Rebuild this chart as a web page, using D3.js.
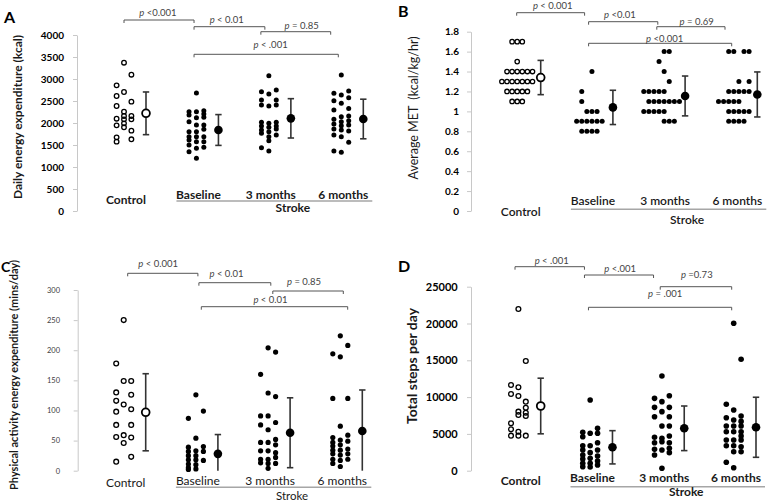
<!DOCTYPE html>
<html><head><meta charset="utf-8">
<script src="https://cdn.jsdelivr.net/npm/d3@7"></script>
<style>body{margin:0;background:#fff}svg{display:block}</style>
</head><body><svg id="chart" width="770" height="501"></svg>
<script>
const FONT = "Lato, 'Open Sans', 'DejaVu Sans', sans-serif";
const groups = ["Control", "Baseline", "3 months", "6 months"];

// ---- Panel A: Daily energy expenditure (kcal) ----
const energyTicks = [0, 500, 1000, 1500, 2000, 2500, 3000, 3500, 4000];
const energyControl = [[2856, 2614, 2386, 2098, 1947, 1674, 1576], [3371, 2705, 2258, 2160, 2083, 1992, 1902], [3098, 2485, 2160, 2083, 1826, 1629]];
const energyBaseline = [[2258, 2182, 2030, 1803, 1689, 1614, 1500, 1348], [2682, 2258, 2121, 1955, 1803, 1689, 1576, 1424, 1197], [2280, 2205, 2129, 1955, 1856, 1689, 1576, 1447]];
const energy3m = [[2712, 2523, 2409, 2015, 1932, 1841, 1765, 1440], [3076, 2659, 2386, 1992, 1902, 1803, 1689, 1598, 1364], [2750, 2523, 2409, 2015, 1932, 1864, 1727]];
const energy6m = [[2674, 2508, 2295, 2083, 1977, 1864, 1727, 1364], [3091, 2636, 2447, 2144, 2030, 1939, 1841, 1689, 1333], [2727, 2576, 2330, 2159, 2053, 1955, 1818, 1561]];
const energyMean = [2220, 1841, 2106, 2091];
const energySD = [485, 350, 447, 450];
const energyP = [" <0.001", " < 0.01", " = 0.85", " < .001"];

// ---- Panel B: Average MET (kcal/kg/hr) ----
const metTicks = [0, 0.2, 0.4, 0.6, 0.8, 1, 1.2, 1.4, 1.6, 1.8];
const metControl = [[1.3], [1.4, 1.3, 1.2], [1.7, 1.4, 1.3, 1.2, 1.1], [1.7, 1.5, 1.4, 1.3, 1.2, 1.1], [1.7, 1.4, 1.3, 1.2, 1.1], [1.4, 1.3, 1.2], [1.4, 1.3]];
const metBaseline = [[0.9], [1.2, 1.1, 0.9, 0.8], [1.0, 0.9, 0.8], [1.4, 1.0, 0.9, 0.8], [1.0, 0.9, 0.8], [0.9]];
const met3m = [[1.2, 1.0], [1.2, 1.1, 1.0], [1.2, 1.1, 1.0], [1.5, 1.2, 1.1, 1.0], [1.6, 1.4, 1.2, 1.1, 1.0, 0.9], [1.6, 1.3, 1.1, 0.9], [1.1, 0.9], [1.1]];
const met6m = [[1.1], [1.1], [1.6, 1.2, 1.1, 1.0, 0.9], [1.6, 1.2, 1.1, 1.0, 0.9], [1.3, 1.2, 1.1, 1.0, 0.9], [1.6, 1.2, 1.0, 0.9], [1.6, 1.3, 1.2, 1.0]];
const metMean = [1.34, 1.04, 1.155, 1.17];
const metSD = [0.172, 0.172, 0.2, 0.226];
const metP = [" < 0.001", " <0.01", " = 0.69", " <0.001"];

// ---- Panel C: Physical activity energy expenditure (mins/day) ----
const paTicks = [0, 50, 100, 150, 200, 250, 300];
const paControl = [[178, 130, 116, 98, 76, 56, 15], [250, 149, 110, 59, 46], [149, 126, 102, 76, 55, 23]];
const paBaseline = [[87, 39, 32, 25, 18, 11, 5, 2], [126, 54, 33, 25, 18, 10, 3], [99, 40, 32, 17]];
const pa3m = [[160, 91, 76, 47, 33, 19, 13], [204, 129, 91, 68, 47, 33, 19, 12, 4], [197, 123, 80, 52, 43, 30, 22, 12]];
const pa6m = [[194, 120, 55, 47, 41, 34, 28, 19, 12], [224, 189, 74, 51, 43, 34, 26, 17, 7], [208, 120, 59, 49, 36, 28, 19]];
const paMean = [97, 28, 63, 66];
const paSD = [64, 32, 58, 68];
const paP = [" < 0.001", " < 0.01", " = 0.85", " < 0.01"];

// ---- Panel D: Total steps per day ----
const stepsTicks = [0, 5000, 10000, 15000, 20000, 25000];
const stepsControl = [[11650, 10420, 6440, 5620, 4760], [21970, 11330, 10150, 8020, 7570, 5300, 4760], [14900, 9380, 8560, 7880, 7430, 4760]];
const stepsBaseline = [[5210, 4620, 3400, 2810, 2130, 1590, 1000, 540], [9600, 5080, 3400, 2450, 1680, 1000, 500], [5760, 5080, 3800, 2810, 2000, 1320, 770]];
const steps3m = [[9830, 8610, 7340, 4540, 3800, 2900, 2130], [12870, 9380, 8020, 6070, 4400, 3940, 2810, 330], [10190, 8610, 7340, 6070, 4710, 3800, 3040, 2450]];
const steps6m = [[9020, 7200, 6070, 5300, 4170, 3400, 1140], [20030, 8250, 6890, 6070, 5300, 4170, 3400, 2580, 410], [15140, 7430, 6700, 6070, 5300, 4710, 4170, 3260, 2580]];
const stepsMean = [8790, 3180, 5760, 5900];
const stepsSD = [3780, 2260, 3030, 4080];
const stepsP = [" < .001", " <.001", " =0.73", " = .001"];

const svg = d3.select("#chart");

function drawPanel(p) {
  const g = svg.append("g");
  const x = d3.scalePoint().domain(groups).range(p.xRange);
  const y = d3.scaleLinear().domain([0, p.ticks[p.ticks.length - 1]]).range(p.yRange);

  // axis
  const axis = d3.axisLeft(y).tickValues(p.ticks).tickSize(4).tickSizeOuter(0)
    .tickPadding(p.tickPad).tickFormat(d => String(d));
  const ax = g.append("g").attr("transform", `translate(${p.axisX},0)`).call(axis);
  ax.select(".domain").attr("stroke", "#c8c8c8").attr("stroke-width", 1);
  ax.selectAll(".tick line").attr("stroke", "#c8c8c8");
  ax.selectAll(".tick text").attr("font-family", FONT).attr("font-size", p.tickFont)
    .attr("font-weight", p.tickWeight).attr("fill", p.tickColor);

  // y label
  g.append("text").attr("transform", `translate(${p.ylab.x},${p.ylab.y}) rotate(-90)`)
    .attr("text-anchor", "middle").attr("dominant-baseline", "central")
    .attr("font-family", FONT).attr("font-size", p.ylab.size).attr("font-weight", p.ylab.weight)
    .attr("fill", "#1a1a1a").style("white-space", "pre").text(p.ylab.text);

  // panel letter
  g.append("text").attr("x", p.letter.x).attr("y", p.letter.y)
    .attr("font-family", FONT).attr("font-size", p.letter.size).attr("font-weight", "bold")
    .attr("fill", "#000").text(p.letter.text);

  // points
  const pts = [];
  p.data.forEach((cols, gi) => {
    const n = cols.length;
    cols.forEach((col, ci) => col.forEach(v => pts.push({ gi, ci, n, v })));
  });
  g.append("g").selectAll("circle").data(pts).join("circle")
    .attr("cx", d => x(groups[d.gi]) - p.clusterOff + (d.ci - (d.n - 1) / 2) * p.colStep)
    .attr("cy", d => y(d.v))
    .attr("r", d => d.gi === 0 ? p.openR : p.dotR)
    .attr("fill", d => d.gi === 0 ? "none" : "#000")
    .attr("stroke", d => d.gi === 0 ? "#000" : "none")
    .attr("stroke-width", 1.3);

  // mean +/- SD
  const stats = groups.map((grp, i) => ({ grp, i, m: p.mean[i], s: p.sd[i] }));
  const eb = g.append("g").attr("stroke", "#333").attr("stroke-width", 1.6).attr("fill", "none");
  stats.forEach(d => {
    const cx = x(d.grp);
    const top = y(d.m + d.s);
    const loV = d.m - d.s;
    const bot = y(Math.max(0, loV));
    eb.append("line").attr("x1", cx).attr("x2", cx).attr("y1", top).attr("y2", bot);
    eb.append("line").attr("x1", cx - 3.2).attr("x2", cx + 3.2).attr("y1", top).attr("y2", top);
    if (loV > 0) eb.append("line").attr("x1", cx - 3.2).attr("x2", cx + 3.2).attr("y1", bot).attr("y2", bot);
  });
  g.append("g").selectAll("circle").data(stats).join("circle")
    .attr("cx", d => x(d.grp)).attr("cy", d => y(d.m))
    .attr("r", d => d.i === 0 ? 3.9 : 4.3)
    .attr("fill", d => d.i === 0 ? "#fff" : "#000")
    .attr("stroke", "#000").attr("stroke-width", d => d.i === 0 ? 1.8 : 0);

  // brackets
  p.brackets.forEach((b, k) => {
    const x1 = x(groups[b.from]) + b.o1, x2 = x(groups[b.to]) + b.o2;
    g.append("path").attr("d", `M${x1},${b.y + 3}V${b.y}H${x2}V${b.y + 3}`)
      .attr("fill", "none").attr("stroke", "#555").attr("stroke-width", 1);
    const t = g.append("text").attr("x", (x1 + x2) / 2 + b.dx).attr("y", b.y + b.dy)
      .attr("text-anchor", "middle").attr("font-family", FONT).attr("font-size", 9.5)
      .attr("fill", "#444").style("white-space", "pre");
    t.append("tspan").attr("font-style", "italic").text("p");
    t.append("tspan").text(p.pLabels[k]);
  });

  // category labels
  const c = p.cat;
  g.append("g").selectAll("text").data(groups).join("text")
    .attr("x", d => x(d) - 20)
    .attr("y", (d, i) => i === 0 ? c.controlY : c.strokeY)
    .attr("text-anchor", "middle").attr("font-family", FONT).attr("font-size", c.size)
    .attr("font-weight", c.weight).attr("fill", "#1a1a1a").text(d => d);
  g.append("line").attr("x1", x(groups[1]) - 42).attr("x2", x(groups[3]) + 9)
    .attr("y1", c.lineY).attr("y2", c.lineY).attr("stroke", "#a6a6a6").attr("stroke-width", 1.5);
  g.append("text").attr("x", x(groups[2]) + 2).attr("y", c.strokeLabelY)
    .attr("text-anchor", "middle").attr("font-family", FONT).attr("font-size", c.strokeSize || c.size)
    .attr("font-weight", c.weight).attr("fill", "#1a1a1a").text("Stroke");
}

drawPanel({
  xRange: [146, 363.3], axisX: 77, yRange: [211, 35], ticks: energyTicks,
  tickFont: 10, tickWeight: "bold", tickColor: "#000", tickPad: 9,
  ylab: { text: "Daily energy expenditure (kcal)", x: 17, y: 117, size: 12, weight: "bold" },
  letter: { text: "A", x: 4, y: 23, size: 16 },
  data: [energyControl, energyBaseline, energy3m, energy6m], mean: energyMean, sd: energySD,
  colStep: 7.4, clusterOff: 22, dotR: 2.5, openR: 2.3,
  pLabels: energyP,
  brackets: [
    { from: 0, to: 1, o1: -22, o2: -24.4, y: 20, dx: -1.2, dy: -4.5 },
    { from: 1, to: 2, o1: -24.4, o2: -26, y: 26.7, dx: -2.7, dy: -3.4 },
    { from: 2, to: 3, o1: -30, o2: -32.6, y: 31.7, dx: 5.8, dy: -2.4 },
    { from: 1, to: 3, o1: -24.4, o2: -25, y: 54.3, dx: 4.4, dy: -6 }
  ],
  cat: { size: 12, weight: "bold", controlY: 204, strokeY: 198.7, lineY: 201, strokeLabelY: 212.3 }
});

drawPanel({
  xRange: [540.7, 757.3], axisX: 471, yRange: [211, 31.7], ticks: metTicks,
  tickFont: 10, tickWeight: "bold", tickColor: "#000", tickPad: 8,
  ylab: { text: "Average MET  (kcal/kg/hr)", x: 413, y: 108, size: 12.5, weight: "normal" },
  letter: { text: "B", x: 398, y: 17, size: 16 },
  data: [metControl, metBaseline, met3m, met6m], mean: metMean, sd: metSD,
  colStep: 5.1, clusterOff: 23.5, dotR: 2.5, openR: 2.2,
  pLabels: metP,
  brackets: [
    { from: 0, to: 1, o1: -24, o2: -28.3, y: 12.7, dx: 2.1, dy: -3.4 },
    { from: 1, to: 2, o1: -24.3, o2: -27.3, y: 21.7, dx: -3.4, dy: -3.4 },
    { from: 2, to: 3, o1: -28.3, o2: -32.3, y: 26.7, dx: 5.8, dy: -1.7 },
    { from: 1, to: 3, o1: -24.3, o2: -25.6, y: 43.3, dx: 4.6, dy: -1.6 }
  ],
  cat: { size: 12, weight: "600", controlY: 216, strokeY: 205, lineY: 209.3, strokeLabelY: 224 }
});

drawPanel({
  xRange: [145.7, 362.3], axisX: 77.7, yRange: [470.7, 290], ticks: paTicks,
  tickFont: 7.5, tickWeight: "normal", tickColor: "#404040", tickPad: 13.7,
  ylab: { text: "Physical activity energy expenditure (mins/day)", x: 13.3, y: 375, size: 11, weight: "bold" },
  letter: { text: "C", x: 1, y: 272, size: 14 },
  data: [paControl, paBaseline, pa3m, pa6m], mean: paMean, sd: paSD,
  colStep: 7.5, clusterOff: 22, dotR: 2.6, openR: 2.4,
  pLabels: paP,
  brackets: [
    { from: 0, to: 1, o1: -18, o2: -20, y: 273.3, dx: -4.7, dy: -6 },
    { from: 1, to: 2, o1: -19, o2: -19.3, y: 282.7, dx: -8.3, dy: -6 },
    { from: 2, to: 3, o1: -17.3, o2: -19, y: 291, dx: -4, dy: -6 },
    { from: 1, to: 3, o1: -16.6, o2: -14.6, y: 306.7, dx: -4, dy: -3.4 }
  ],
  cat: { size: 12, strokeSize: 11.5, weight: "normal", controlY: 486.5, strokeY: 484.5, lineY: 487.3, strokeLabelY: 499.8 }
});

drawPanel({
  xRange: [540.7, 756], axisX: 471, yRange: [470.7, 286.7], ticks: stepsTicks,
  tickFont: 11, tickWeight: "bold", tickColor: "#000", tickPad: 9.3,
  ylab: { text: "Total steps per day", x: 411, y: 366, size: 14, weight: "bold" },
  letter: { text: "D", x: 398, y: 272, size: 16 },
  data: [stepsControl, stepsBaseline, steps3m, steps6m], mean: stepsMean, sd: stepsSD,
  colStep: 7.4, clusterOff: 22.3, dotR: 2.8, openR: 2.4,
  pLabels: stepsP,
  brackets: [
    { from: 0, to: 1, o1: -25.7, o2: -28, y: 266.7, dx: 2, dy: -2.7 },
    { from: 1, to: 2, o1: -28, o2: -30.7, y: 275, dx: 1.2, dy: -3.3 },
    { from: 2, to: 3, o1: -24, o2: -24.3, y: 286.7, dx: 0.8, dy: -8.4 },
    { from: 1, to: 3, o1: -24, o2: -24.3, y: 307.3, dx: 5, dy: -10.6 }
  ],
  cat: { size: 12, weight: "bold", controlY: 485, strokeY: 481.7, lineY: 486.7, strokeLabelY: 496 }
});
</script>
</body></html>
